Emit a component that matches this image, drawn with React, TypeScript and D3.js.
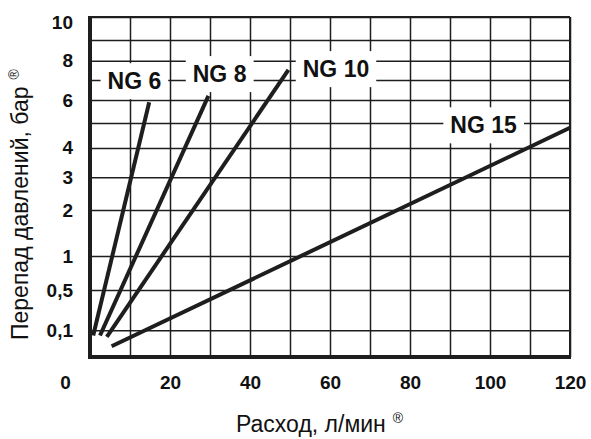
import { useEffect, useRef } from 'react';
import * as d3 from 'd3';

// Серии: расход (л/мин) и перепад давлений (бар) в начале и конце прямой
const series = ["NG 6", "NG 8", "NG 10", "NG 15"];
const flowStart = [0.8, 2.5, 4.2, 5.4];
const flowEnd = [14.8, 29.6, 49.6, 120];
const dpStart = [0.08, 0.08, 0.075, 0.04];
const dpEnd = [5.9, 6.2, 7.53, 4.81];

// где стоят подписи серий (в единицах данных)
const labelFlow = [11.1, 32.4, 61.5, 98.4];
const labelDp = [6.95, 7.32, 7.58, 4.92];

const xTicks = [0, 20, 40, 60, 80, 100, 120];
const xGrid = [0, 10, 20, 30, 40, 50, 60, 70, 80, 90, 100, 110, 120];
const yTicks = [10, 8, 6, 4, 3, 2, 1, 0.5, 0.1];
const yTickLabels = ["10", "8", "6", "4", "3", "2", "1", "0,5", "0,1"];
const yGrid = [0, 0.1, 0.5, 1, 2, 3, 4, 5, 6, 7, 8, 9, 10];

// шкала Y неравномерная: доля высоты графика для каждой линии сетки
const yStops = [0, 0.079, 0.197, 0.297, 0.432, 0.529, 0.615, 0.688, 0.756, 0.815, 0.871, 0.932, 1];

export default function App() {
    const svgRef = useRef<SVGSVGElement>(null);
    const width = 591;
    const height = 439;

    useEffect(() => {
        const svg = d3.select(svgRef.current);
        svg.selectAll("*").remove();

        const margin = { top: 17, right: 21, bottom: 82, left: 90 };
        const chartWidth = width - margin.left - margin.right;
        const chartHeight = height - margin.top - margin.bottom;
        const ink = "#1e1e1e";
        const font = "'Liberation Sans', Arial, sans-serif";

        svg.append("rect").attr("width", width).attr("height", height).attr("fill", "white");

        const g = svg.append("g")
            .attr("transform", `translate(${margin.left},${margin.top})`);

        const xScale = d3.scaleLinear().domain([0, 120]).range([0, chartWidth]);
        const yScale = d3.scaleLinear()
            .domain(yGrid)
            .range(yStops.map(f => chartHeight * (1 - f)));

        // сетка
        g.append("g")
            .call(d3.axisLeft(yScale).tickValues(yGrid).tickSize(-chartWidth).tickFormat(() => ""))
            .call(s => s.select(".domain").remove())
            .selectAll("line")
            .attr("stroke", ink)
            .attr("stroke-width", 1.5);

        g.append("g")
            .attr("transform", `translate(0,${chartHeight})`)
            .call(d3.axisBottom(xScale).tickValues(xGrid).tickSize(-chartHeight).tickFormat(() => ""))
            .call(s => s.select(".domain").remove())
            .selectAll("line")
            .attr("stroke", ink)
            .attr("stroke-width", 1.5);

        // рамка
        g.append("line").attr("x1", 0).attr("x2", chartWidth).attr("y1", 0).attr("y2", 0)
            .attr("stroke", ink).attr("stroke-width", 2);
        g.append("line").attr("x1", chartWidth).attr("x2", chartWidth).attr("y1", 0).attr("y2", chartHeight)
            .attr("stroke", ink).attr("stroke-width", 2);
        g.append("line").attr("x1", 0).attr("x2", 0).attr("y1", -1).attr("y2", chartHeight + 2)
            .attr("stroke", ink).attr("stroke-width", 4);
        g.append("line").attr("x1", -2).attr("x2", chartWidth + 1).attr("y1", chartHeight).attr("y2", chartHeight)
            .attr("stroke", ink).attr("stroke-width", 4);

        // прямые
        const line = d3.line<[number, number]>()
            .x(d => xScale(d[0]))
            .y(d => yScale(d[1]));

        series.forEach((name, i) => {
            g.append("path")
                .datum([[flowStart[i], dpStart[i]], [flowEnd[i], dpEnd[i]]] as [number, number][])
                .attr("fill", "none")
                .attr("stroke", ink)
                .attr("stroke-width", 4)
                .attr("d", line);
        });

        // подписи серий на белом фоне
        series.forEach((name, i) => {
            const lg = g.append("g");
            const box = lg.append("rect").attr("fill", "white");
            const t = lg.append("text")
                .attr("x", xScale(labelFlow[i]))
                .attr("y", yScale(labelDp[i]))
                .attr("dy", "0.36em")
                .attr("text-anchor", "middle")
                .style("font-family", font)
                .style("font-size", "23px")
                .style("font-weight", "700")
                .style("fill", "#111")
                .text(name);
            const bb = (t.node() as SVGTextElement).getBBox();
            box.attr("x", bb.x - 7)
                .attr("y", bb.y - 5)
                .attr("width", bb.width + 14)
                .attr("height", bb.height + 10);
        });

        // ось X
        const xAxis = g.append("g")
            .attr("transform", `translate(0,${chartHeight})`)
            .call(d3.axisBottom(xScale).tickValues(xTicks).tickSize(0).tickPadding(19));
        xAxis.select(".domain").remove();
        xAxis.selectAll("text")
            .style("font-family", font)
            .style("font-size", "19px")
            .style("font-weight", "700")
            .style("fill", "#111")
            .attr("x", (d: any) => (d === 0 ? -25 : 0));

        // ось Y
        const yAxis = g.append("g")
            .call(d3.axisLeft(yScale).tickValues(yTicks)
                .tickFormat((d, i) => yTickLabels[i]).tickSize(0).tickPadding(17));
        yAxis.select(".domain").remove();
        yAxis.selectAll("text")
            .style("font-family", font)
            .style("font-size", "19px")
            .style("font-weight", "700")
            .style("fill", "#111")
            .attr("y", (d: any) => (d === 10 ? 5 : 0));

        // подписи осей
        const xt = svg.append("text")
            .attr("x", 236)
            .attr("y", 432)
            .style("font-family", font)
            .style("font-size", "23px")
            .style("fill", "#111")
            .text("Расход, л/мин");
        xt.append("tspan").attr("dx", 7).attr("dy", -9).style("font-size", "14px").text("®");

        const yt = svg.append("text")
            .attr("transform", "translate(28,340) rotate(-90)")
            .style("font-family", font)
            .style("font-size", "23px")
            .style("fill", "#111")
            .text("Перепад давлений, бар");
        yt.append("tspan").attr("dx", 7).attr("dy", -9).style("font-size", "14px").text("®");
    }, []);

    return (
        <svg
            ref={svgRef}
            width={width}
            height={height}
            style={{ position: "absolute", left: 0, top: 0, display: "block" }}
        ></svg>
    );
}
